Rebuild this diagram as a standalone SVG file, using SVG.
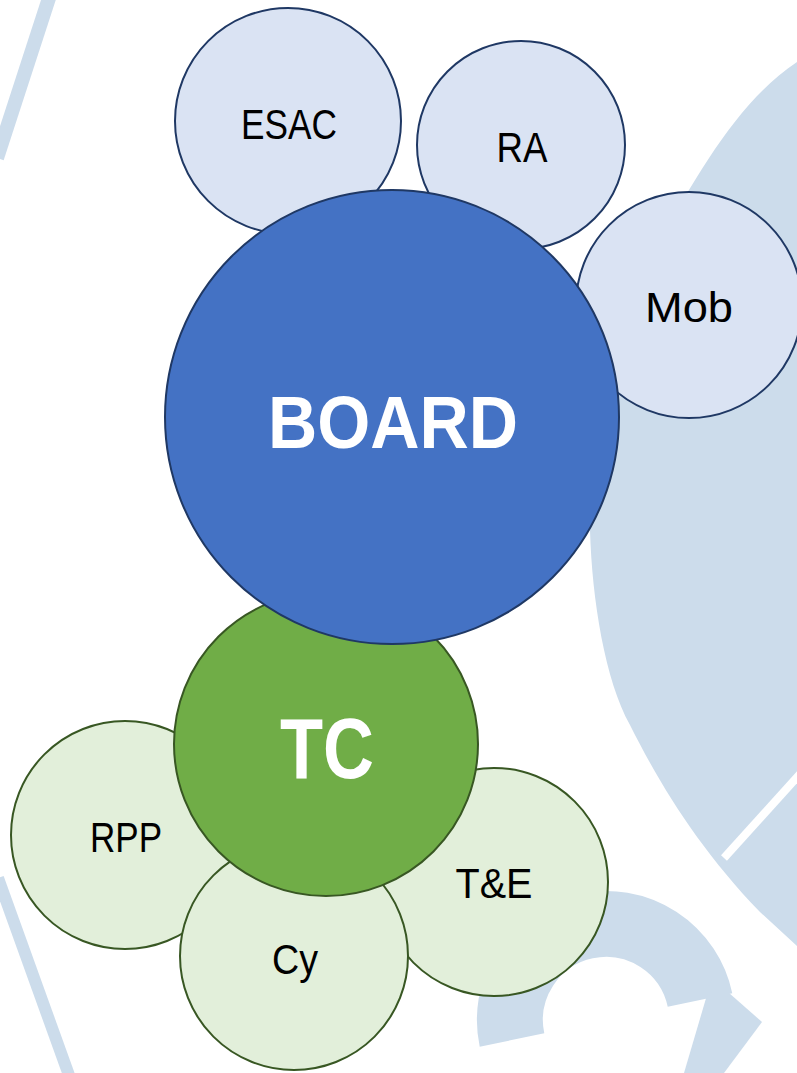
<svg xmlns="http://www.w3.org/2000/svg" width="797" height="1073" viewBox="0 0 797 1073">
  <style>
    .wm { fill: #CCDCEB; }
    .wml { fill: none; stroke: #CCDCEB; }
    .sub { fill: #DAE3F3; stroke: #1F3864; stroke-width: 2; }
    .main { fill: #4472C4; stroke: #1F3864; stroke-width: 2; }
    .gsub { fill: #E2EFDA; stroke: #385723; stroke-width: 2; }
    .gmain { fill: #70AD47; stroke: #385723; stroke-width: 2; }
    .lbl { font-family: "Liberation Sans", Arial, sans-serif; font-size: 42px; fill: #000000; text-anchor: middle; }
    .big { font-family: "Liberation Sans", Arial, sans-serif; font-weight: bold; fill: #FFFFFF; text-anchor: middle; }
  </style>
  <rect x="0" y="0" width="797" height="1073" fill="#FFFFFF"/>
  <g id="watermark">
    <path class="wm" d="M797,62 C740,100 700,170 660,240 C620,320 592,420 590,530 C592,600 605,680 630,725 C660,785 700,850 760,912 L797,946 Z"/>
    <line x1="724" y1="858" x2="800" y2="774" stroke="#FFFFFF" stroke-width="8"/>
    <path class="wml" d="M512,1040 A96,96 0 1 1 700,1000" stroke-width="66"/>
    <polygon class="wm" points="712,978 762,1022 724,1073 684,1073"/>
    <line class="wml" x1="50" y1="-5" x2="-3" y2="158" stroke-width="14"/>
    <line class="wml" x1="-2" y1="878" x2="70" y2="1078" stroke-width="12"/>
  </g>
  <g id="connectors"></g>
  <g id="node-rpp">
    <circle class="gsub" cx="125" cy="835" r="114"/>
    <text class="lbl" x="126" y="852" textLength="72" lengthAdjust="spacingAndGlyphs">RPP</text>
  </g>
  <g id="node-te">
    <circle class="gsub" cx="494" cy="882" r="114"/>
    <text class="lbl" x="494" y="898" textLength="77" lengthAdjust="spacingAndGlyphs">T&amp;E</text>
  </g>
  <g id="node-cy">
    <circle class="gsub" cx="294" cy="956" r="114"/>
    <text class="lbl" x="295" y="974" textLength="46" lengthAdjust="spacingAndGlyphs">Cy</text>
  </g>
  <g id="node-tc">
    <circle class="gmain" cx="326" cy="744" r="152"/>
    <text class="big" x="327" y="778" font-size="85" textLength="94" lengthAdjust="spacingAndGlyphs">TC</text>
  </g>
  <g id="node-mob">
    <circle class="sub" cx="689" cy="305" r="113"/>
    <text class="lbl" x="689" y="322" textLength="88" lengthAdjust="spacingAndGlyphs">Mob</text>
  </g>
  <g id="node-esac">
    <circle class="sub" cx="288" cy="121" r="113"/>
    <text class="lbl" x="289" y="139" textLength="96" lengthAdjust="spacingAndGlyphs">ESAC</text>
  </g>
  <g id="node-ra">
    <circle class="sub" cx="521" cy="145" r="104"/>
    <text class="lbl" x="522" y="162" textLength="51" lengthAdjust="spacingAndGlyphs">RA</text>
  </g>
  <g id="node-board">
    <circle class="main" cx="392" cy="417" r="227"/>
    <text class="big" x="393" y="448" font-size="75" textLength="250" lengthAdjust="spacingAndGlyphs">BOARD</text>
  </g>
</svg>
